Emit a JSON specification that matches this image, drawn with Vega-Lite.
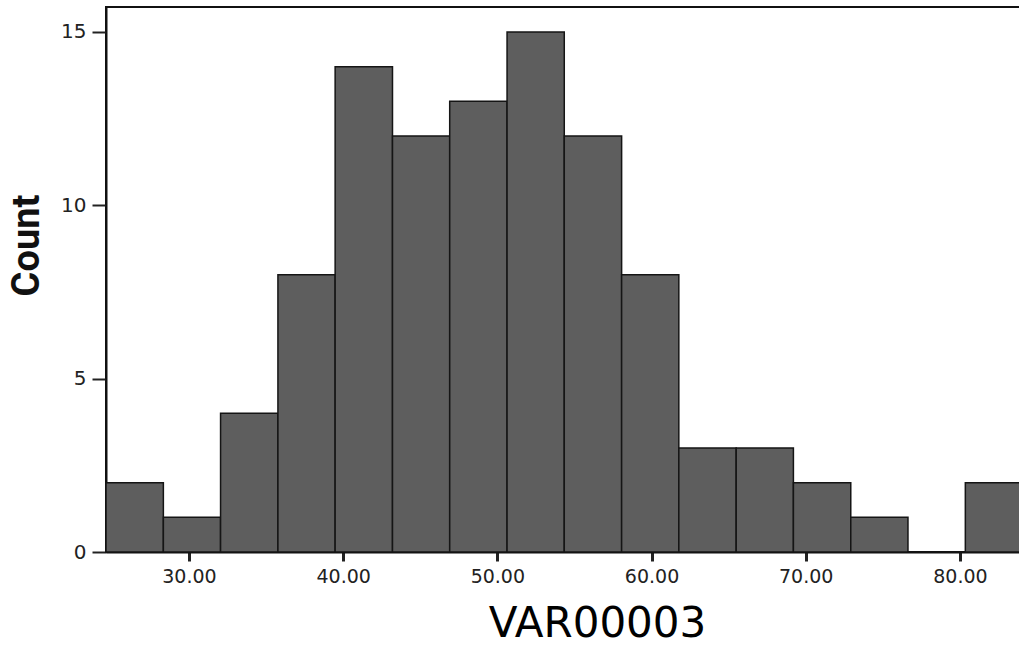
{
  "$schema": "https://vega.github.io/schema/vega-lite/v6.json",
  "autosize": "none",
  "padding": {"left": 106, "top": 7, "right": 0, "bottom": 93},
  "width": 985,
  "height": 545,
  "background": "white",
  "config": {
    "view": {"stroke": "#111111", "strokeWidth": 2},
    "axis": {"grid": false}
  },
  "data": {
    "values": [
      {"bin_start": 24.62, "bin_end": 28.34, "count": 2},
      {"bin_start": 28.34, "bin_end": 32.05, "count": 1},
      {"bin_start": 32.05, "bin_end": 35.77, "count": 4},
      {"bin_start": 35.77, "bin_end": 39.48, "count": 8},
      {"bin_start": 39.48, "bin_end": 43.2, "count": 14},
      {"bin_start": 43.2, "bin_end": 46.91, "count": 12},
      {"bin_start": 46.91, "bin_end": 50.63, "count": 13},
      {"bin_start": 50.63, "bin_end": 54.34, "count": 15},
      {"bin_start": 54.34, "bin_end": 58.06, "count": 12},
      {"bin_start": 58.06, "bin_end": 61.77, "count": 8},
      {"bin_start": 61.77, "bin_end": 65.49, "count": 3},
      {"bin_start": 65.49, "bin_end": 69.2, "count": 3},
      {"bin_start": 69.2, "bin_end": 72.92, "count": 2},
      {"bin_start": 72.92, "bin_end": 76.63, "count": 1},
      {"bin_start": 76.63, "bin_end": 80.35, "count": 0},
      {"bin_start": 80.35, "bin_end": 84.06, "count": 2}
    ]
  },
  "mark": {"type": "rect", "fill": "#5e5e5e", "stroke": "#151515", "strokeWidth": 1.5},
  "encoding": {
    "x": {
      "field": "bin_start",
      "type": "quantitative",
      "scale": {"domain": [24.62, 88.5], "nice": false, "zero": false},
      "axis": {
        "values": [30, 40, 50, 60, 70, 80],
        "format": ".2f",
        "title": "VAR00003",
        "domainColor": "#111111",
        "domainWidth": 2,
        "tickColor": "#222222",
        "tickSize": 9,
        "tickWidth": 3,
        "labelFont": "DejaVu Sans",
        "labelFontSize": 19,
        "labelColor": "#222222",
        "labelPadding": 6,
        "titleFont": "DejaVu Sans",
        "titleFontSize": 42,
        "titleFontWeight": "normal",
        "titleColor": "#000000",
        "titleBaseline": "alphabetic",
        "titleY": 84,
        "titleX": 491
      }
    },
    "x2": {"field": "bin_end"},
    "y": {
      "field": "count",
      "type": "quantitative",
      "scale": {"domain": [0, 15.72], "nice": false},
      "axis": {
        "values": [0, 5, 10, 15],
        "title": "Count",
        "domainColor": "#111111",
        "domainWidth": 2,
        "tickColor": "#222222",
        "tickSize": 14,
        "tickWidth": 2,
        "labelFont": "DejaVu Sans",
        "labelFontSize": 20,
        "labelColor": "#222222",
        "labelPadding": 6,
        "titleFont": "Roboto",
        "titleFontSize": 38,
        "titleFontWeight": "bold",
        "titleColor": "#111111",
        "titleX": -79,
        "titleY": 238,
        "titleAlign": "center",
        "titleBaseline": "middle",
        "titleAngle": -90
      }
    },
    "y2": {"datum": 0}
  }
}
